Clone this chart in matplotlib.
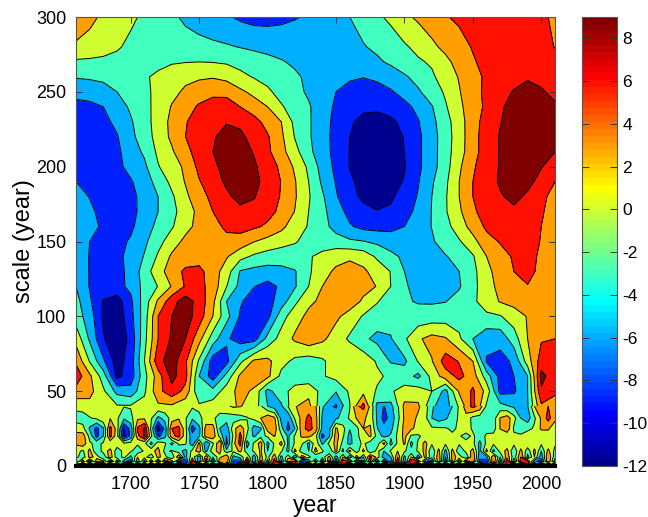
import numpy as np
import matplotlib
matplotlib.use('Agg')
import matplotlib.pyplot as plt
from matplotlib.cm import ScalarMappable
from matplotlib.colors import LinearSegmentedColormap, Normalize

plt.rcParams['font.family'] = ['Liberation Sans', 'DejaVu Sans']
plt.rcParams['axes.unicode_minus'] = False

# wavelet coefficients, large scales, every 10 years
years_upper = list(range(1660, 2011, 10))
scales_upper = [300, 280, 270, 260, 250, 240, 230, 220, 210, 200, 190, 180, 170, 160, 150, 140, 130, 120, 110, 100, 85, 70, 60, 50, 40]
coef_upper = [
    [5, 3.7, 2.5, 1.5, .5, -.5, -1.5, -2.5, -3.5, -4.3, -5, -5.6, -6.5, -7, -7, -6.7, -6.2, -5.7, -5, -4, -3, -1.8, -.5, .6, 2.4, 3.5, 4.5, 5.8, 6.5, 7, 7.5, 7.8, 7.8, 7.5, 6.5, 5.5],
    [2.5, 2, 1.2, .3, -.6, -1, -1.4, -1.6, -1.9, -2.1, -2.4, -2.7, -3.1, -3.5, -3.8, -4, -4.2, -4.3, -4.2, -4, -3.7, -3.2, -2.4, -1.5, -.4, .8, 2.4, 3.7, 5, 6.2, 7, 7.5, 7.8, 8, 7, 5.9],
    [-.5, -.6, -.7, -.8, -.9, -.9, -.7, -.3, -.1, 0, -.1, -.4, -1, -1.6, -2.2, -2.8, -3.4, -3.8, -4.2, -4.4, -4.6, -4.3, -3.5, -2.5, -1.3, -.4, .4, 2.3, 4, 5.7, 6.9, 7.5, 7.8, 8, 7.8, 7],
    [-2.8, -2.6, -2.3, -1.8, -1, -.3, .5, 1.6, 2.3, 2.6, 2.8, 2.3, .8, -.2, -.9, -1.7, -2.6, -3.5, -4.3, -5, -5.6, -5.9, -5.4, -4.6, -3.4, -2, -.5, 1.5, 3.2, 5, 6.5, 7.2, 8, 8.8, 8.5, 7.8],
    [-5, -4.8, -4.2, -3, -1.8, -.7, .8, 2.2, 3.5, 4.5, 5, 4.8, 3.6, 2.2, .5, -1, -2.2, -3.4, -4.8, -6, -7, -7.5, -7.2, -6.3, -5, -3.4, -1.5, .4, 2.8, 5, 6.6, 8, 9.2, 9.6, 9.2, 8.5],
    [-7, -6.7, -6, -4.2, -2.6, -.9, 1, 3.2, 4.8, 6.4, 7.8, 8, 6, 4.5, 3, .3, -1.3, -2.7, -4.6, -6.5, -7.7, -8.4, -8.5, -7.8, -6.8, -5.3, -3.2, -.3, 2.3, 4.8, 6.5, 8.8, 9.5, 10, 10, 9.3],
    [-7.5, -7.3, -6.8, -5.3, -3.3, -1.3, 1.4, 3.7, 5.8, 7.3, 8.4, 8.8, 8.4, 7, 5, 3, -.8, -2.6, -4.8, -6.8, -8.6, -9.8, -10, -9.6, -8.2, -6.2, -3.8, -1.2, 1.8, 4.7, 7.3, 8.9, 10, 10.3, 10.2, 9.8],
    [-7.5, -7.5, -7, -6.2, -3.7, -1.6, 1.2, 3.6, 6, 7.5, 8.7, 10, 9.6, 8, 6.3, 3.6, -.2, -2.6, -4.8, -7, -9, -10.5, -11, -10.5, -8.8, -6.6, -4.2, -1.4, 1.6, 4.9, 7.5, 9.2, 10.2, 10.5, 10.4, 10],
    [-7.7, -7.8, -7.4, -6.6, -4.5, -2.5, .6, 2.6, 5.3, 7, 9, 10.2, 10.2, 8.8, 6.6, 4, 1, -2.3, -4.6, -7, -9.1, -10.5, -11, -10.5, -9, -6.6, -4.2, -1.3, 1.8, 4.8, 7.6, 9.2, 10, 10.3, 10, 9],
    [-7.8, -8, -7.8, -6.8, -5, -3.6, -.2, 1.8, 3.5, 6.8, 8.4, 10, 10.5, 9.5, 7.3, 5.5, 2.5, -.6, -4.2, -6.7, -9.1, -10.5, -11, -10.5, -9.2, -6.6, -4.2, -1.2, 2.5, 5.6, 7.7, 9.2, 10, 10, 9.1, 8],
    [-6, -7, -7.3, -7.2, -6.3, -4.3, -2, .8, 3.2, 5.8, 7.7, 9.5, 10.5, 9.8, 8, 5.9, 3.2, 0, -3.5, -6.2, -8.5, -10, -10.5, -10, -8.8, -6.2, -3.4, -.6, 3, 6, 7.9, 9.3, 9.8, 9.5, 8.4, 6],
    [-5, -6.1, -6.6, -7.2, -6.8, -5, -3, -.5, 2.4, 4.8, 6.8, 8.4, 10, 9.2, 7.5, 5.8, 3.3, .3, -2.6, -5.7, -8.2, -9.5, -10, -9.5, -7.6, -5.8, -3, -.3, 3, 6, 7.7, 8.8, 9.5, 8.7, 6.7, 5],
    [-4, -5.5, -6.8, -7.2, -6.6, -5.3, -3, -.9, 1.5, 3.8, 6, 7.5, 8.2, 8, 7, 5.3, 2.9, 0, -2.2, -4.7, -6.9, -8.3, -8.9, -8.5, -7, -5.3, -2.9, -.3, 2.5, 5.5, 7.3, 8.5, 8.6, 7.8, 6.3, 4.8],
    [-3.5, -5, -6.5, -7.2, -6.5, -4.5, -2.2, -.3, 2, 4, 5.3, 6.4, 7, 6.5, 5.5, 3.8, 1.3, -.2, -2, -4, -5.7, -6.8, -7, -6.8, -6, -4.8, -2.9, -1, 1.5, 4.2, 6.5, 7.5, 8, 7.2, 6, 4.5],
    [-3.5, -6, -7, -6.8, -5.7, -3.6, -1, 1.5, 3.8, 4.7, 5.3, 5.4, 4.8, 3.1, 2, 1, .2, -.8, -1.5, -1.8, -2.5, -2.9, -3.6, -4.5, -4.8, -4.5, -3.4, -1.5, -.3, 2, 5, 6.2, 7.5, 7.5, 5.8, 4.5],
    [-3.5, -6.2, -7, -6.8, -5, -2.8, .4, 3.5, 4.3, 4.7, 4.4, 3.3, 1, -.5, -1.3, -1.5, -1.2, -.3, .8, 2, 2.5, 1.8, -.5, -2.2, -3.6, -4.3, -4, -3.2, -1.9, -.3, 3, 5, 6.3, 6.8, 5.6, 4.5],
    [-3.3, -6.2, -7, -6.8, -5.3, -1.5, 1.8, 4.5, 6.6, 6.8, 4.5, 1.5, -3.2, -3.9, -4.2, -3.9, -3.2, -.5, 2, 3.5, 4.2, 3.5, 1.8, -.1, -3, -4, -4.5, -4, -3, -.8, 2, 4.6, 6, 6.7, 5.4, 3.5],
    [-3, -6.2, -7, -6.8, -5.4, -2, .1, 3.2, 6.3, 6.9, 4.8, .1, -4, -5.9, -7, -5.5, -3.3, 0, 3, 4, 4.6, 4, 2.9, 0, -2.7, -3.8, -4.5, -4, -3.3, -.8, 1.6, 4, 5.3, 5.9, 4.6, 3],
    [-2, -5.5, -9.3, -10.5, -6.6, -1.6, 3.5, 7.8, 10.5, 7.8, 3.8, -3, -5.7, -7.3, -7.2, -4.5, -.7, 2.4, 3.6, 4.4, 4.6, 2.5, .2, -1.5, -2.7, -3.2, -3.3, -3.1, -1.9, -.6, 1.5, 3.2, 4, 4.3, 4.5, 3.5],
    [-1.5, -4.5, -9.5, -11, -7, -1.5, 6, 9, 10.5, 7.5, 3, -2, -6.3, -8, -7, -1.3, 1.8, 3.7, 4.4, 3.6, 1.8, -.3, -1.3, -2, -2.2, -2, -1.7, -1.5, -1.3, -1, -.6, -.2, 1.5, 3.2, 4, 3.6],
    [2, -3.5, -8.7, -11.5, -8, -1, 6, 9.5, 9, 4, -1.5, -5.5, -7.5, -7.3, -2, 1.2, 3.5, 5, 3.6, 1.6, -.5, -2.4, -3.8, -3.2, -.5, 2.6, 4, 3.3, .5, -3, -5, -5, -1.4, 3, 5.7, 6],
    [5.5, -.2, -5.5, -10.5, -7.5, 0, 8, 10.5, 6.5, -.5, -7.5, -7, -.8, 3.6, 3.8, 1, -.7, -1.5, -.5, 1.6, 2.8, 1.8, -.3, -3.3, -3.6, .2, 2.8, 7.5, 5.8, 3, -6.3, -7, -5.5, 1.5, 7.5, 8],
    [7.8, 3.6, -1.5, -9.8, -7.5, -1, 4.5, 10, 7, -3, -7.5, -2, 3.6, 4.6, 3.8, -.8, -1.5, -2, -.3, 1, 1.5, 1.2, .5, -.6, -1.5, -3.8, 1, 4.5, 6.8, 4.5, -1.5, -7, -6, -3, 10, 7],
    [5, 4, .5, -4, -5, -.5, 5, 8, 5, -2.5, -2, 1.5, 4, 2.5, -4, -1, 1, 2, -1, -2.8, .5, 2, -.3, -.3, 1, 1.5, 0, -4, 3.5, 6.5, 2, -7, -6.5, -3, 8.5, 7],
    [1, 2, 1, .3, .3, 1, 2.5, 2.5, 1, .5, 1.5, 2.5, 3.2, 1.5, -3, -3.5, 2.8, 4, -2.5, -6.5, -.2, 7, -3.8, -4, 3.8, 3.5, -2.5, -4.5, .5, 7, -.5, -2, -3.5, -3.2, 5.5, 3.5],
]

# small scales, every 5 years
years_lower = list(range(1660, 2011, 5))
scales_lower = [40, 32, 25, 20, 15, 10, 6, 3, 1.5, 0]
coef_lower = [
    [1, 1.5, 2, 2, 1, .3, .3, .2, .3, .5, 1, 2, 2.5, 2.8, 2.5, 2, 1, .5, .5, .8, 1.5, 1.5, 2.5, 3.5, 3.2, 2.2, 1.5, .3, -3, -4.5, -3.5, .2, 2.8, 4, 4, 3.5,
     -2.5, -5.5, -6.5, -3, -.2, 5.5, 7, 2.5, -3.8, -6.2, -4, -.5, 3.8, 4.2, 3.5, 1.5, -2.5, -4.5, -4.5, -3, .5, 4.5, 7, 5, -.5, -1.5, -2, -2.8, -3.5, -4, -3.2, 3, 5.5, 6, 3.5],
    [-1.5, -1.5, -.2, .5, 2.5, 2.8, .5, -2.5, -1, 2.5, 2.5, .3, -3.8, -2, 1.5, 2.6, .3, -2.5, -.5, .8, .5, -1, -1.5, -1.5, -1, -.2, .8, 3, 5, 3.5, -4, -5.5, .5, 4, 7, 4.5,
     -3.5, -6, -3.5, -2, .5, 3.2, 3.5, 2, -3.5, -7, -5, -1, 3.5, 4, 2.5, 1, -3, -4.5, -3.5, -1.5, .5, 2, -1, -1.5, -1.5, -1.5, 3.2, 4.5, 1, -3, -4.5, -.5, 3.5, 7, 4],
    [2, 1, -3.5, -7, -3.5, 7, 1.5, -9, -5, 6.5, 9.5, -1, -10.5, -5, 6, 7, 1, -7.5, -4, 4.5, 4.5, -3, -5, 2, 5, 1, -4.5, -3.5, 4.5, 5, -2, -7, -3, 5, 7, 5,
     -4, -4, 3.5, 1, -2.8, -1, 3, 3.5, -2.8, -5, -4, 0, 4, 3.5, 2, .5, .5, .5, .3, -.5, .5, 1.5, -.5, -1, -1, -1.5, 3.2, 5, -.5, -1.5, -1, .5, 3.5, 3.5, .8],
    [4, 4.5, -1, -7, -3, 7, 1, -10, -5, 5, 9.5, .5, -7, -4, 5, 7, 1, -5, -3.5, 4.5, 5, -1, -6, .5, 7, -.5, -3.5, -1, .5, 3.2, .5, -3.5, .5, 3.5, 4, 1,
     -7, -3.5, 4.5, .5, -4, -.5, 1, 3.5, -1, -4, -2.5, .5, 4, -.5, -.5, 1, 1.5, 1, .8, .5, .3, -1, .5, -1.5, .5, 1, .8, 1, .5, .5, 2.2, 1.5, .8, 1, .5],
    [3.5, 5, .5, -1, .5, .5, 2, .5, 1, .5, .8, -4, 2, .5, -4, .5, .5, -5, 4, -6, -.5, 6, -7, 2, 7, -4.5, .5, 4.5, -4, .5, 4, -3.5, .5, .5, -4, 2,
     -3.5, .8, 4, -1, -4, -1, .5, -1.5, -1.5, 4, -4, .5, 3.5, -4, .5, 4, .5, .5, .5, .5, .5, 1, 1, -4, .8, .5, .8, .8, .8, .5, 2.5, .5, .5, .5, .5],
    [1, -.5, 4, -3, 1.5, 4, -2, 1, .5, -2, .5, 2, 4, -1, .5, -2, -4, 1, 5, -4, 2, 4, -2, .5, 4, -2, .5, 3.5, -3, 1, .5, -4, 4, -2, -3, 4,
     .5, -3, 4, -4, 4, -2, 4, -3, 1, -3, .5, 3, .5, -2, .5, 4, -3, 4, -4, 4, -3, 1, 4, -4, 4, -4, 1, 4, -3, 4, -2, 4, -3, 4, -1],
    [1, -2, 4, 2, -3, 5, -2, 1, -4, 3, 1, -2, 4, 1, -3, 6, -4, 2, -5, 5, -3, 2, 6, -4, -2, 3, -5, 4, -1, 5, -4, 2, -6, 5, 1, -3,
     -2, 4, -5, 3, -6, 5, -3, 7, 2, -5, -3, 6, -4, 3, -5, 4, -2, 5, -6, 4, 2, -3, 6, -5, -4, 6, -3, 5, -2, 6, -4, 3, -5, 6, -2],
    [-5, 6, -7, 5, 4, -7, 6, -5, -8, 6, -5, 7, -6, 8, 5, -7, -8, 7, -6, 8, -9, 6, 5, -7, -8, 9, -6, 7, -5, 8, -7, 6, 7, -9, -6, 5,
     -8, 7, -9, 8, 6, -9, -7, 6, -8, 5, -7, 8, -6, 9, 7, -5, -8, 6, -9, 7, -6, 8, 5, -7, -8, 6, -7, 9, -6, 8, 7, -5, -8, 6, -5],
    [9, -8, 11, -10, -7, 12, -9, 8, 10, -12, 9, -7, 11, -8, -10, 12, -9, 7, 11, -10, 8, -12, 9, -7, -11, 10, -8, 12, -9, 7, 10, -11, 8, -9, 12, -7,
     10, -8, -11, 9, -12, 7, 10, -9, 8, -11, -7, 12, -10, 9, -8, 11, 7, -12, 10, -9, 8, -7, -11, 12, -10, 9, -8, 7, 11, -12, 9, -10, 8, -7, 11],
    [-12, 11, -13, 12, -11, 13, -12, 11, -13, 12, -11, 13, -12, 11, -13, 12, -11, 13, -12, 11, -13, 12, -11, 13, -12, 11, -13, 12, -11, 13, -12, 11, -13, 12, -11, 13,
     -12, 11, -13, 12, -11, 13, -12, 11, -13, 12, -11, 13, -12, 11, -13, 12, -11, 13, -12, 11, -13, 12, -11, 13, -12, 11, -13, 12, -11, 13, -12, 11, -13, 12, -11],
]

levels = [-12, -9, -6, -3, 0, 3, 6, 9]
clim = (-12, 9)
x_ticks = [1700, 1750, 1800, 1850, 1900, 1950, 2000]
y_ticks = [0, 50, 100, 150, 200, 250, 300]
cbar_ticks = [-12, -10, -8, -6, -4, -2, 0, 2, 4, 6, 8]

W, H = 648, 517
fig = plt.figure(figsize=(W / 100, H / 100), dpi=100)
ax = fig.add_axes([76 / W, 1 - 466 / H, (555 - 76) / W, (466 - 17) / H])
cax = fig.add_axes([582 / W, 1 - 466 / H, 35 / W, (466 - 17) / H])

# the old Matlab jet, 64 steps
cmap = LinearSegmentedColormap.from_list('matlab_jet', [
    (0, (0, 0, .5625)), (7 / 63, (0, 0, 1)), (23 / 63, (0, 1, 1)),
    (39 / 63, (1, 1, 0)), (55 / 63, (1, 0, 0)), (1, (.5, 0, 0))], N=64)
norm = Normalize(*clim)
band_colors = [cmap(norm(levels[0]))] + [cmap(norm(l)) for l in levels]

for xs, ys, zs in [(years_upper, scales_upper, coef_upper), (years_lower, scales_lower, coef_lower)]:
    xs = np.array(xs)
    ys = np.array(ys)[::-1]
    zs = np.array(zs)[::-1]
    ax.contourf(xs, ys, zs, levels=levels, colors=band_colors, extend='both')
    ax.contour(xs, ys, zs, levels=levels, colors='k', linewidths=0.7, linestyles='solid')

ax.set_xlim(1660, 2010)
ax.set_ylim(0, 300)
ax.set_xticks(x_ticks)
ax.set_yticks(y_ticks)
ax.tick_params(direction='in', top=True, right=True, length=4, width=0.7, color='#333333', labelsize=13, pad=7)
ax.set_xlabel('year', fontsize=16.5, labelpad=1)
ax.set_ylabel('scale (year)', fontsize=17, labelpad=1)
for s in ax.spines.values():
    s.set_color('#555555')
    s.set_linewidth(0.8)
# the contours pile up into a black band along the bottom
ax.spines['bottom'].set_color('k')
ax.spines['bottom'].set_linewidth(3)

cb = fig.colorbar(ScalarMappable(norm=norm, cmap=cmap), cax=cax)
cb.set_ticks(cbar_ticks)
cax.tick_params(direction='in', left=True, right=True, length=5, width=0.7, color='#333333', labelsize=12.5, pad=4)
cb.outline.set_edgecolor('#555555')
cb.outline.set_linewidth(0.8)

fig.savefig('out.png', dpi=100)
